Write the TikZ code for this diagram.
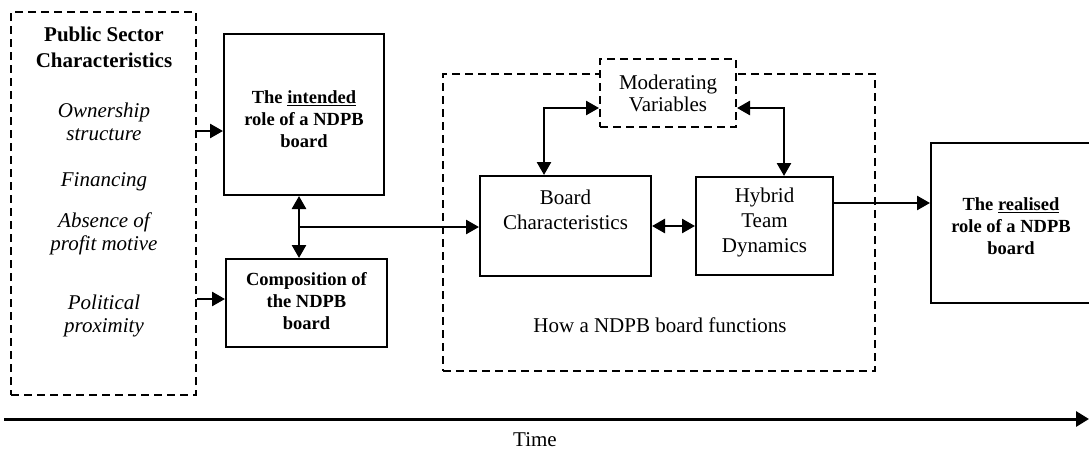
\documentclass[tikz,border=0pt]{standalone}
\usepackage{fontspec}
\setmainfont{Liberation Serif}
\usetikzlibrary{arrows.meta}
\begin{document}
\begin{tikzpicture}[x=1pt,y=-1pt,
  box/.style={draw, line width=2pt, inner sep=0pt, fill=white},
  dbox/.style={box, dash pattern=on 8pt off 5pt},
  tip/.tip={Triangle[length=13pt,width=14pt]},
  arr/.style={line width=2.6pt, -tip},
  arrb/.style={line width=2.6pt, tip-tip},
  txt/.style={align=center, inner sep=0pt, font=\fontsize{21pt}{25pt}\selectfont},
  itxt/.style={align=center, inner sep=0pt, font=\fontsize{21pt}{23pt}\selectfont\itshape},
  ttl/.style={align=center, inner sep=0pt, font=\fontsize{21pt}{26pt}\selectfont\bfseries},
  btxt/.style={align=center, inner sep=0pt, font=\fontsize{18.5pt}{22pt}\selectfont\bfseries}]
\useasboundingbox (0,0) rectangle (1089,450);

% public sector characteristics
\node[dbox, minimum width=185pt, minimum height=383pt] (psc) at (103.5,203.5) {};
\node[ttl] (psct) at (104,47) {Public Sector\\Characteristics};
\node[itxt] (own) at (104,121.5) {Ownership\\structure};
\node[itxt] (fin) at (104,182) {Financing};
\node[itxt] (abs) at (104,233.5) {Absence of\\profit motive};
\node[itxt] (pol) at (104,315.5) {Political\\proximity};

% intended role and composition
\node[box, minimum width=160pt, minimum height=161pt] (intended) at (304,114.5) {};
\node[btxt] (intendedt) at (304,119) {The \underline{intended}\\role of a NDPB\\board};
\node[box, minimum width=161pt, minimum height=88pt] (comp) at (306.5,303) {};
\node[btxt] (compt) at (306.5,301) {Composition of\\the NDPB\\board};

% how a board functions
\node[dbox, fill=none, minimum width=432pt, minimum height=297pt] (func) at (659,222.5) {};
\node[txt] (funct) at (660,325) {How a NDPB board functions};
\node[dbox, minimum width=136pt, minimum height=68pt] (mv) at (668,93) {};
\node[txt, font=\fontsize{21pt}{22pt}\selectfont] (mvt) at (668,93) {Moderating\\Variables};
\node[box, minimum width=171pt, minimum height=100pt] (bc) at (565.5,226) {};
\node[txt] (bct) at (565.5,210) {Board\\Characteristics};
\node[box, minimum width=137pt, minimum height=98pt] (htd) at (764.5,226) {};
\node[txt] (htdt) at (764.5,222) {Hybrid\\Team\\Dynamics};

% realised role
\node[box, minimum width=162pt, minimum height=160pt] (real) at (1012,223) {};
\node[btxt] (realt) at (1011,226) {The \underline{realised}\\role of a NDPB\\board};

% connectors
\coordinate (a1) at (0,131);
\coordinate (a2) at (0,299);
\coordinate (j) at (299,227);
\coordinate (mvl) at (544,108);
\coordinate (mvr) at (784,108);
\coordinate (hr) at (0,203);
\draw[arr] (psc.east |- a1) -- (intended.west |- a1);
\draw[arr] (psc.east |- a2) -- (comp.west |- a2);
\draw[arrb] (intended.south -| j) -- (comp.north -| j);
\draw[arr] (j) -- (bc.west |- j);
\draw[arrb] (bc.east) -- (htd.west);
\draw[arrb] (bc.north -| mvl) -- (mvl) -- (mv.west |- mvl);
\draw[arrb] (htd.north -| mvr) -- (mvr) -- (mv.east |- mvr);
\draw[arr] (htd.east |- hr) -- (real.west |- hr);

% time axis
\coordinate (t0) at (4,419);
\coordinate (t1) at (1089,419);
\draw[line width=3pt, -{Triangle[length=13pt,width=15pt]}] (t0) -- (t1);
\node[txt] (time) at (535,440) {Time};
\end{tikzpicture}
\end{document}
